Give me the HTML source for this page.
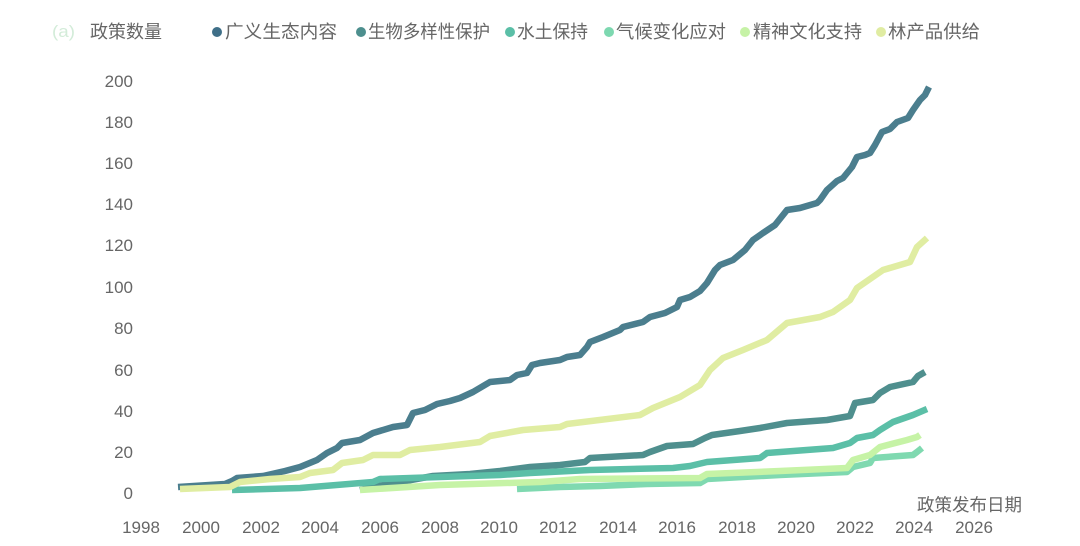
<!DOCTYPE html>
<html>
<head>
<meta charset="utf-8">
<style>
html,body{margin:0;padding:0;background:#fff;}
svg{display:block;}
text{font-family:"Liberation Sans","Noto Sans CJK SC",sans-serif;}
</style>
</head>
<body>
<svg width="1080" height="546" viewBox="0 0 1080 546" xmlns="http://www.w3.org/2000/svg">
<rect width="1080" height="546" fill="#fff"/>
<!-- title / legend -->
<text x="52" y="37" font-size="17" fill="#d3ecd9" textLength="23" lengthAdjust="spacingAndGlyphs">(a)</text>
<text x="90" y="38" font-size="18" fill="#666" font-family="'Noto Sans CJK SC',sans-serif" textLength="72" lengthAdjust="spacingAndGlyphs">政策数量</text>
<g font-size="18" fill="#666" font-family="'Noto Sans CJK SC',sans-serif">
<circle cx="217" cy="32" r="5" fill="#3f6f88"/><text x="225" y="38" textLength="112" lengthAdjust="spacingAndGlyphs">广义生态内容</text>
<circle cx="361" cy="32" r="5" fill="#4d8f8e"/><text x="368" y="38" textLength="122" lengthAdjust="spacingAndGlyphs">生物多样性保护</text>
<circle cx="510" cy="32" r="5" fill="#5bbfa7"/><text x="517" y="38" textLength="71" lengthAdjust="spacingAndGlyphs">水土保持</text>
<circle cx="609" cy="32" r="5" fill="#7dd8b0"/><text x="616" y="38" textLength="110" lengthAdjust="spacingAndGlyphs">气候变化应对</text>
<circle cx="745" cy="32" r="5" fill="#c6f2a6"/><text x="753" y="38" textLength="109" lengthAdjust="spacingAndGlyphs">精神文化支持</text>
<circle cx="881" cy="32" r="5" fill="#e0eca2"/><text x="888" y="38" textLength="92" lengthAdjust="spacingAndGlyphs">林产品供给</text>
</g>
<!-- y axis labels -->
<g font-size="17" fill="#666" text-anchor="end">
<text x="133" y="87">200</text>
<text x="133" y="128">180</text>
<text x="133" y="169">160</text>
<text x="133" y="210">140</text>
<text x="133" y="251">120</text>
<text x="133" y="293">100</text>
<text x="133" y="334">80</text>
<text x="133" y="376">60</text>
<text x="133" y="417">40</text>
<text x="133" y="458">20</text>
<text x="133" y="499">0</text>
</g>
<!-- x axis labels -->
<g font-size="17" fill="#666" text-anchor="middle">
<text x="141" y="533">1998</text>
<text x="201" y="533">2000</text>
<text x="261" y="533">2002</text>
<text x="320" y="533">2004</text>
<text x="380" y="533">2006</text>
<text x="440" y="533">2008</text>
<text x="499" y="533">2010</text>
<text x="558" y="533">2012</text>
<text x="618" y="533">2014</text>
<text x="677" y="533">2016</text>
<text x="737" y="533">2018</text>
<text x="796" y="533">2020</text>
<text x="855" y="533">2022</text>
<text x="914" y="533">2024</text>
<text x="974" y="533">2026</text>
</g>
<text x="917" y="511" font-size="17.5" fill="#666" font-family="'Noto Sans CJK SC',sans-serif">政策发布日期</text>
<!-- series -->
<g fill="none" stroke-width="6.5" stroke-linejoin="round" stroke-linecap="butt">
<polyline stroke="#4b7e8e" points="178,487 225,484 232,481 237,478 263,476 285,471 300,467 317,460 327,453 337,448 342,443 360,440 373,433 393,427 407,425 413,413 425,410 437,404 450,401 460,398 473,392 490,382 510,380 517,375 527,373 532,365 540,363 560,360 567,357 580,355 587,347 590,342 603,337 620,330 623,327 643,322 650,317 665,313 677,307 680,300 690,297 700,291 707,283 715,270 720,265 733,260 745,250 753,240 763,233 775,225 787,210 800,208 817,203 820,200 827,190 837,181 843,178 852,167 857,157 865,155 870,153 875,145 882,132 890,129 897,122 908,118 913,110 920,100 925,95 929,87"/>
<polyline stroke="#4f8f8e" points="360,490 373,487 400,482 433,476 470,474 500,471 530,467 560,465 585,462 590,458 643,455 650,452 667,446 693,444 705,438 712,435 740,431 760,428 787,423 827,420 850,416 855,403 873,400 880,393 890,387 913,382 918,376 925,372"/>
<polyline stroke="#5bbfa7" points="232,490 300,488 373,482 380,479 440,477 500,475 530,473 590,470 673,468 690,466 707,462 760,458 767,453 833,448 850,443 857,438 873,435 880,430 893,422 913,415 927,409"/>
<polyline stroke="#7fd9b0" points="517,489 560,487 600,486 647,484 700,483 707,479 780,475 847,472 853,467 870,463 873,458 913,455 917,452 922,448"/>
<polyline stroke="#c6f3a6" points="360,490 440,485 540,482 580,479 700,478 707,474 780,471 847,468 853,460 870,455 880,447 907,440 917,437 920,435"/>
<polyline stroke="#e0eda2" points="180,489 230,487 240,482 270,479 300,477 310,473 333,470 342,463 363,460 373,455 400,455 410,450 440,447 480,442 490,436 523,430 560,427 567,424 640,415 653,408 680,397 700,385 710,370 723,358 743,350 767,340 787,323 820,317 833,312 850,300 857,288 883,270 910,262 917,247 927,238"/>
</g>
</svg>
</body>
</html>
